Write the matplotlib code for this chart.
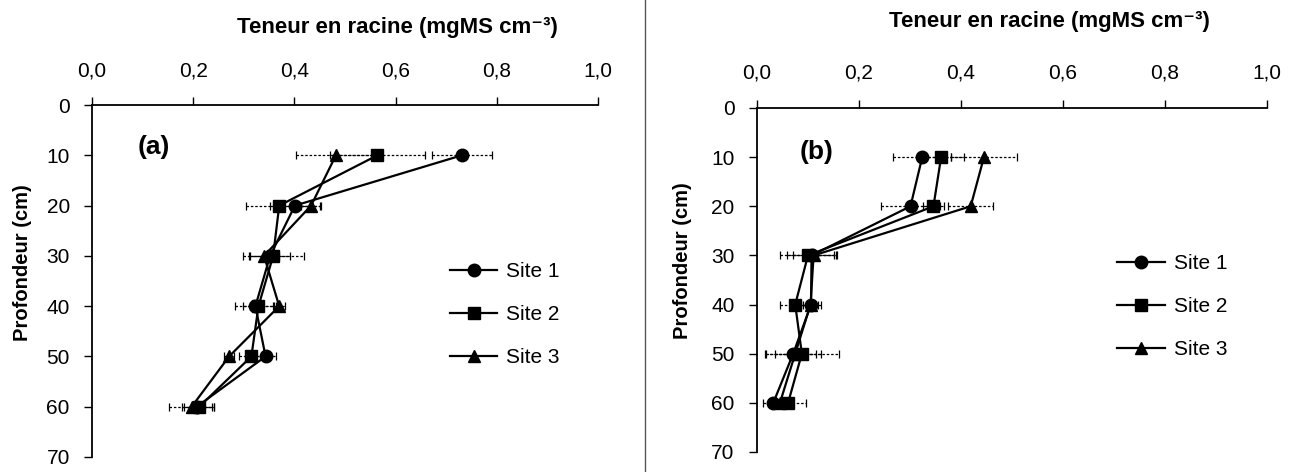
import numpy as np
import matplotlib
matplotlib.use("Agg")
import matplotlib.pyplot as plt
from matplotlib.lines import Line2D

plt.rcParams['font.family'] = ['Liberation Sans', 'DejaVu Sans']

# DATA
depth = [10, 20, 30, 40, 50, 60]
sites = ["Site 1", "Site 2", "Site 3"]
markers = ["o", "s", "^"]

# panel (a)
a_site1 = [0.731, 0.401, 0.352, 0.323, 0.343, 0.207]
a_site2 = [0.564, 0.370, 0.358, 0.329, 0.315, 0.212]
a_site3 = [0.482, 0.433, 0.340, 0.370, 0.271, 0.197]
a_err1 = [0.060, 0.050, 0.040, 0.040, 0.020, 0.030]
a_err2 = [0.094, 0.065, 0.060, 0.030, 0.025, 0.030]
a_err3 = [0.078, 0.020, 0.030, 0.012, 0.010, 0.045]

# panel (b)
b_site1 = [0.324, 0.301, 0.107, 0.106, 0.071, 0.032]
b_site2 = [0.361, 0.346, 0.100, 0.075, 0.088, 0.061]
b_site3 = [0.445, 0.419, 0.111, 0.105, 0.075, 0.045]
b_err1 = [0.057, 0.057, 0.049, 0.020, 0.054, 0.020]
b_err2 = [0.044, 0.021, 0.054, 0.030, 0.072, 0.036]
b_err3 = [0.064, 0.044, 0.040, 0.015, 0.040, 0.020]

xticks = [0.0, 0.2, 0.4, 0.6, 0.8, 1.0]
xticklabels = ["0,0", "0,2", "0,4", "0,6", "0,8", "1,0"]
yticks = [0, 10, 20, 30, 40, 50, 60, 70]
title = "Teneur en racine (mgMS cm\u207b\u00b3)"

fig = plt.figure(figsize=(12.9, 4.72), dpi=100)
ax_a = fig.add_axes([0.0713, 0.0318, 0.3923, 0.7457])
ax_b = fig.add_axes([0.5868, 0.0424, 0.3954, 0.7288])


def draw_panel(ax, values, errors, tag, tagpos, legpos, titlepos, ylabpos):
	for vals, errs, m, lab in zip(values, errors, markers, sites):
		eb = ax.errorbar(vals, depth, xerr=errs, fmt='none', ecolor='black',
						 elinewidth=0.9, capsize=3, capthick=0.9, zorder=2)
		eb[2][0].set_linestyle((0, (2, 1.5)))
		ax.plot(vals, depth, color='black', lw=1.6, marker=m, markersize=9,
				label=lab, zorder=3)

	ax.set_xlim(0, 1)
	ax.set_ylim(70, 0)
	ax.xaxis.tick_top()
	ax.set_xticks(xticks)
	ax.set_xticklabels(xticklabels)
	ax.set_yticks(yticks)
	ax.tick_params(axis='both', labelsize=15, direction='out', length=6,
				   width=1, pad=12)
	ax.tick_params(axis='y', pad=10)
	ax.spines['right'].set_visible(False)
	ax.spines['bottom'].set_visible(False)
	ax.spines['left'].set_linewidth(1.3)
	ax.spines['top'].set_linewidth(1.3)

	# title above the top axis (shifted right as in the original figure)
	ax.text(titlepos[0], titlepos[1], title, transform=ax.transAxes,
			fontsize=16, fontweight='bold', ha='center', va='center')
	ax.set_ylabel("Profondeur (cm)", fontsize=14.5, fontweight='bold')
	ax.yaxis.set_label_coords(ylabpos[0], ylabpos[1])

	ax.text(tagpos[0], tagpos[1], tag, fontsize=19, fontweight='bold',
			ha='left', va='center')

	ax.legend(loc='center', bbox_to_anchor=legpos, frameon=False, fontsize=15,
			  handlelength=2.3, labelspacing=1.15, handletextpad=0.4)


draw_panel(ax_a, [a_site1, a_site2, a_site3], [a_err1, a_err2, a_err3],
		   "(a)", (0.09, 8.35), (0.815, 0.404), (0.603, 1.219), (-0.118, 0.551))
draw_panel(ax_b, [b_site1, b_site2, b_site3], [b_err1, b_err2, b_err3],
		   "(b)", (0.084, 8.96), (0.814, 0.423), (0.573, 1.25), (-0.127, 0.555))

# separating line between the two panels
fig.add_artist(Line2D([0.5, 0.5], [0, 1], transform=fig.transFigure,
					  color='#555555', lw=1))

fig.savefig("out.png", dpi=100)
